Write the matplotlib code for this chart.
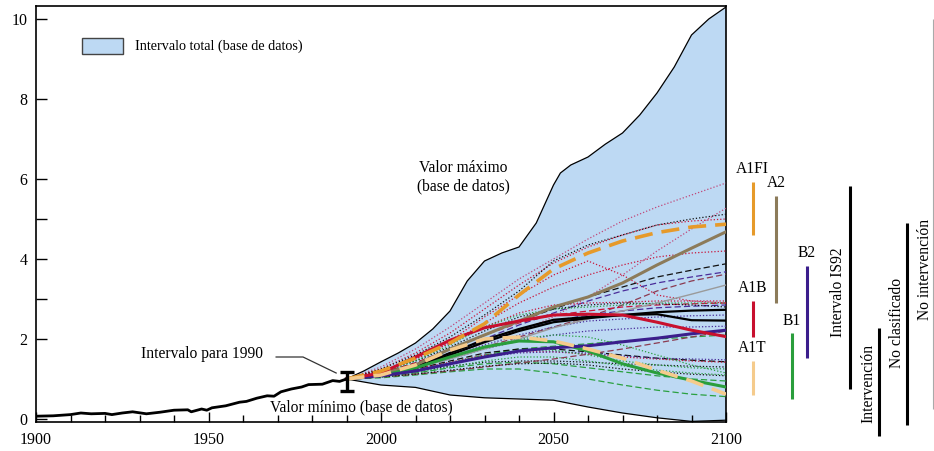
import numpy as np
import matplotlib
matplotlib.use("Agg")
import matplotlib.pyplot as plt
from matplotlib.patches import Rectangle

plt.rcParams['font.family'] = ['Liberation Serif', 'DejaVu Serif']

# ---------------- data ----------------
hist_years = [1900, 1905, 1910, 1913, 1916, 1920, 1922, 1925, 1928, 1932, 1936, 1940, 1944,
              1945, 1948, 1949.5, 1951, 1955, 1959, 1961, 1964, 1967, 1969, 1971, 1974,
              1977, 1979, 1983, 1986, 1988, 1990]
hist_vals = [0.07, 0.08, 0.11, 0.15, 0.13, 0.14, 0.11, 0.15, 0.18, 0.13, 0.17, 0.22, 0.23,
             0.18, 0.25, 0.22, 0.28, 0.33, 0.42, 0.44, 0.52, 0.58, 0.57, 0.68, 0.75,
             0.80, 0.86, 0.87, 0.96, 0.94, 1.0]

up_years = [1990, 1995, 2000, 2005, 2010, 2015, 2020, 2025, 2030, 2035, 2040, 2045, 2050,
            2052, 2055, 2060, 2065, 2070, 2075, 2080, 2085, 2090, 2095, 2100]
up_vals = [1.0, 1.2, 1.43, 1.65, 1.9, 2.25, 2.7, 3.45, 3.95, 4.15, 4.3, 4.9, 5.85,
           6.15, 6.35, 6.55, 6.87, 7.15, 7.6, 8.15, 8.8, 9.6, 10.0, 10.3]
lo_years = [1990, 2000, 2010, 2020, 2030, 2040, 2050, 2060, 2070, 2080, 2090, 2100]
lo_vals = [1.0, 0.85, 0.79, 0.6, 0.53, 0.5, 0.47, 0.3, 0.15, 0.03, -0.06, -0.03]

scen_years = [1990, 2000, 2010, 2020, 2030, 2040, 2050, 2060, 2070, 2080, 2090, 2100]

A1FI = [1.0, 1.2, 1.52, 1.9, 2.38, 3.1, 3.75, 4.15, 4.45, 4.66, 4.8, 4.87]
A2   = [1.0, 1.12, 1.35, 1.75, 2.1, 2.45, 2.8, 3.05, 3.4, 3.85, 4.27, 4.68]
A1B  = [1.0, 1.15, 1.55, 1.97, 2.28, 2.45, 2.6, 2.62, 2.6, 2.42, 2.22, 2.06]
A1T  = [1.0, 1.1, 1.35, 1.72, 2.0, 2.05, 1.95, 1.75, 1.52, 1.22, 0.95, 0.62]
B1   = [1.0, 1.08, 1.28, 1.55, 1.8, 1.95, 1.93, 1.7, 1.38, 1.15, 0.97, 0.8]
B2   = [1.0, 1.08, 1.2, 1.38, 1.55, 1.7, 1.78, 1.83, 1.93, 2.02, 2.13, 2.22]
IS92_a = [1.0, 1.1, 1.3, 1.65, 1.98, 2.25, 2.48, 2.55, 2.6, 2.67, 2.71, 2.73]
IS92_b = [1.0, 1.08, 1.27, 1.6, 1.92, 2.2, 2.42, 2.52, 2.6, 2.62, 2.47, 2.46]
grey_run = [1.0, 1.1, 1.28, 1.5, 1.75, 2.0, 2.28, 2.5, 2.7, 2.9, 3.12, 3.35]

# thin scenario runs: (values, colour key, style key)
thin_runs = [
    ([1.0, 1.3, 1.75, 2.3, 2.9, 3.5, 4.0, 4.5, 4.95, 5.3, 5.6, 5.9], 'pink', 'dot'),
    ([1.0, 1.25, 1.65, 2.15, 2.75, 3.35, 3.9, 4.3, 4.6, 4.85, 4.95, 5.0], 'red', 'dot'),
    ([1.0, 1.25, 1.6, 2.05, 2.6, 3.2, 3.95, 4.35, 4.6, 4.85, 5.0, 5.12], 'black', 'dot'),
    ([1.0, 1.2, 1.5, 1.95, 2.55, 3.1, 3.6, 3.95, 3.6, 3.1, 2.95, 2.9], 'red', 'dot'),
    ([1.0, 1.2, 1.5, 1.9, 2.4, 2.9, 3.3, 3.6, 3.85, 4.05, 4.15, 4.2], 'red', 'dot'),
    ([1.0, 1.15, 1.35, 1.6, 1.9, 2.2, 2.55, 3.05, 3.6, 4.2, 4.75, 5.27], 'pink', 'dot'),
    ([1.0, 1.12, 1.3, 1.55, 1.8, 2.05, 2.3, 2.55, 2.85, 3.2, 3.45, 3.62], 'brown', 'dash'),
    ([1.0, 1.15, 1.4, 1.75, 2.1, 2.45, 2.75, 3.05, 3.3, 3.55, 3.72, 3.88], 'black', 'dash'),
    ([1.0, 1.12, 1.35, 1.65, 2.0, 2.35, 2.65, 2.95, 3.2, 3.4, 3.55, 3.68], 'purple', 'dash'),
    ([1.0, 1.2, 1.5, 1.9, 2.3, 2.65, 2.85, 2.9, 2.92, 2.95, 2.95, 2.95], 'red', 'dot'),
    ([1.0, 1.15, 1.4, 1.75, 2.1, 2.4, 2.6, 2.7, 2.8, 2.85, 2.88, 2.9], 'red', 'dash'),
    ([1.0, 1.12, 1.35, 1.65, 1.95, 2.25, 2.45, 2.6, 2.7, 2.78, 2.82, 2.85], 'purple', 'dash'),
    ([1.0, 1.2, 1.45, 1.8, 2.2, 2.55, 2.75, 2.85, 2.9, 2.88, 2.85, 2.8], 'black', 'dot'),
    ([1.0, 1.1, 1.3, 1.55, 1.85, 2.1, 2.3, 2.45, 2.5, 2.55, 2.58, 2.6], 'purple', 'dot'),
    ([1.0, 1.1, 1.28, 1.5, 1.75, 1.95, 2.1, 2.2, 2.25, 2.3, 2.3, 2.32], 'purple', 'dot'),
    ([1.0, 1.08, 1.22, 1.4, 1.6, 1.75, 1.82, 1.88, 1.95, 2.0, 2.05, 2.1], 'green', 'dash'),
    ([1.0, 1.15, 1.45, 1.85, 2.3, 2.6, 2.75, 2.8, 2.85, 2.9, 2.9, 2.9], 'green', 'dot'),
    ([1.0, 1.1, 1.25, 1.45, 1.65, 1.75, 1.75, 1.68, 1.6, 1.52, 1.47, 1.43], 'black', 'dash'),
    ([1.0, 1.1, 1.25, 1.42, 1.6, 1.68, 1.68, 1.62, 1.55, 1.5, 1.45, 1.42], 'red', 'dot'),
    ([1.0, 1.08, 1.2, 1.38, 1.55, 1.65, 1.68, 1.65, 1.58, 1.52, 1.5, 1.48], 'purple', 'dot'),
    ([1.0, 1.08, 1.2, 1.32, 1.42, 1.45, 1.45, 1.42, 1.38, 1.35, 1.32, 1.3], 'black', 'dot'),
    ([1.0, 1.08, 1.22, 1.4, 1.58, 1.72, 1.72, 1.6, 1.45, 1.35, 1.28, 1.25], 'green', 'dot'),
    ([1.0, 1.05, 1.15, 1.3, 1.45, 1.55, 1.55, 1.45, 1.33, 1.22, 1.15, 1.1], 'green', 'dot'),
    ([1.0, 1.05, 1.15, 1.28, 1.38, 1.42, 1.38, 1.28, 1.18, 1.08, 1.0, 0.95], 'green', 'dash'),
    ([1.0, 1.03, 1.1, 1.18, 1.25, 1.25, 1.15, 1.0, 0.85, 0.72, 0.62, 0.56], 'green', 'dash'),
    ([1.0, 1.05, 1.12, 1.2, 1.3, 1.4, 1.5, 1.62, 1.75, 1.9, 2.05, 2.2], 'brown', 'dash'),
    ([1.0, 1.05, 1.12, 1.22, 1.32, 1.38, 1.4, 1.35, 1.25, 1.18, 1.12, 1.08], 'black', 'dot'),
    ([1.0, 1.1, 1.3, 1.55, 1.8, 2.0, 2.1, 2.05, 1.85, 1.6, 1.35, 1.15], 'green', 'dot'),
]

x_ticks_major = [1900, 1950, 2000, 2050, 2100]
x_ticks_minor = [1910, 1920, 1930, 1940, 1960, 1970, 1980, 1990, 2010, 2020, 2030, 2040,
                 2060, 2070, 2080, 2090]
y_ticks_major = [0, 2, 4, 6, 8, 10]
y_ticks_minor = [3, 5]

# right-hand ranges: (label, x position (year units), top, bottom, colour)
range_bars = [
    ('A1FI', 2107.7, 5.93, 4.6, '#E69A2A'),
    ('A2',   2114.5, 5.58, 2.89, '#8C7B5A'),
    ('B2',   2123.4, 3.83, 1.52, '#3B1E8C'),
    ('A1B',  2107.7, 2.96, 2.04, '#C8102E'),
    ('B1',   2119.1, 2.14, 0.5, '#2A9E3C'),
    ('A1T',  2107.7, 1.46, 0.6, '#F5CB8C'),
]
group_bars = [
    ('Intervalo IS92', 2135.9, 5.83, 0.74, 'black', 2.2),
    ('Intervención', 2144.3, 2.27, -0.43, 'black', 2.2),
    ('No clasificado', 2152.4, 4.89, -0.15, 'black', 2.2),
    ('No intervención', 2160.1, 10.0, 0.25, '#AAAAAA', 0.8),
]

colors = {'pink': '#C0487A', 'red': '#C8163C', 'black': '#111111', 'purple': '#4A2C9A',
          'green': '#2AA040', 'brown': '#8B3A50'}
styles = {'dot': (0, (1.0, 1.6)), 'dash': (0, (5, 2.5))}

# ---------------- figure ----------------
fig = plt.figure(figsize=(9.34, 4.51), dpi=100)
ax = fig.add_axes([36/934, 29/451, 690/934, 416/451])
ax.set_xlim(1900, 2100)
ax.set_ylim(-0.075, 10.325)

# total range
ax.fill(list(up_years) + list(lo_years[::-1]), list(up_vals) + list(lo_vals[::-1]),
        color='#BDD9F3', lw=0, zorder=1)
ax.plot(up_years, up_vals, color='black', lw=0.9, zorder=2)
ax.plot(lo_years, lo_vals, color='black', lw=0.9, zorder=2)

# thin runs
for vals, c, s in thin_runs:
    ax.plot(scen_years, vals, color=colors[c], ls=styles[s], lw=0.9, zorder=3)

ax.plot(scen_years, grey_run, color='#9A9A9A', lw=1.0, zorder=3)

# IS92 runs
ax.plot(scen_years, IS92_a, color='black', lw=1.6, zorder=4)
ax.plot(scen_years, IS92_b, color='black', lw=1.6, zorder=4)

# marker scenarios
ax.plot(scen_years, A2, color='#8C7B5A', lw=2.2, zorder=5)
ax.plot(scen_years, B1, color='#2A9E3C', lw=2.2, zorder=5)
ax.plot(scen_years, B2, color='#3B1E8C', lw=2.2, zorder=5)
ax.plot(scen_years, A1B, color='#C8102E', lw=2.2, zorder=5)
ax.plot(scen_years, A1FI, color='#E69A2A', lw=2.6, ls=(0, (5, 2.5)), zorder=6)
ax.plot(scen_years, A1T, color='#F5CB8C', lw=2.6, ls=(0, (5, 2.5)), zorder=6)

# historical
ax.plot(hist_years, hist_vals, color='black', lw=2.0, zorder=7)
ax.errorbar([1990], [0.94], yerr=[[0.24], [0.24]], color='black', elinewidth=2.4,
            capsize=5, capthick=2.4, zorder=8)

# axes style
ax.set_xticks(x_ticks_major)
ax.set_xticks(x_ticks_minor, minor=True)
ax.set_yticks(y_ticks_major)
ax.set_yticks(y_ticks_minor, minor=True)
ax.tick_params(axis='both', which='both', direction='in', labelsize=11.5, width=1.0,
               colors='black')
ax.tick_params(axis='x', which='major', length=7, pad=7)
ax.tick_params(axis='x', which='minor', length=5)
ax.tick_params(axis='y', which='both', length=8, pad=6)
for sp in ax.spines.values():
    sp.set_linewidth(1.2)

# legend box
ax.add_patch(Rectangle((1913.3, 9.13), 11.9, 0.4, facecolor='#BDD9F3',
                       edgecolor='#444444', lw=1.0, zorder=9))
ax.text(1928.7, 9.33, 'Intervalo total (base de datos)', fontsize=10.2,
        va='center', ha='left', zorder=9)

# annotations
ax.text(2023.8, 6.05, 'Valor máximo\n(base de datos)', fontsize=11.2, ha='center',
        va='center', linespacing=1.15, zorder=9)
ax.text(1994.2, 0.3, 'Valor mínimo (base de datos)', fontsize=11.2, ha='center',
        va='center', zorder=9)
ax.text(1965.8, 1.63, 'Intervalo para 1990', fontsize=11.2, ha='right', va='center',
        zorder=9)
ax.plot([1969.6, 1977.4, 1987.0], [1.55, 1.55, 1.15], color='#333333', lw=0.9, zorder=9)

# right-hand bars
for lab, x, top, bot, c in range_bars:
    ax.plot([x, x], [bot, top], color=c, lw=2.2, clip_on=False, solid_capstyle='butt')
    ax.text(x, top + 0.12, lab, fontsize=11.2, ha='center', va='bottom', clip_on=False)

for lab, x, top, bot, c, lw in group_bars:
    ax.plot([x, x], [bot, top], color=c, lw=lw, clip_on=False, solid_capstyle='butt')

ax.text(2132.6, 3.18, 'Intervalo IS92', fontsize=11.2, rotation=90, ha='center',
        va='center', clip_on=False)
ax.text(2141.2, 0.89, 'Intervención', fontsize=11.2, rotation=90, ha='center',
        va='center', clip_on=False)
ax.text(2149.5, 2.39, 'No clasificado', fontsize=11.2, rotation=90, ha='center',
        va='center', clip_on=False)
ax.text(2157.7, 3.73, 'No intervención', fontsize=11.2, rotation=90, ha='center',
        va='center', clip_on=False)

fig.savefig('out.png', dpi=100)
